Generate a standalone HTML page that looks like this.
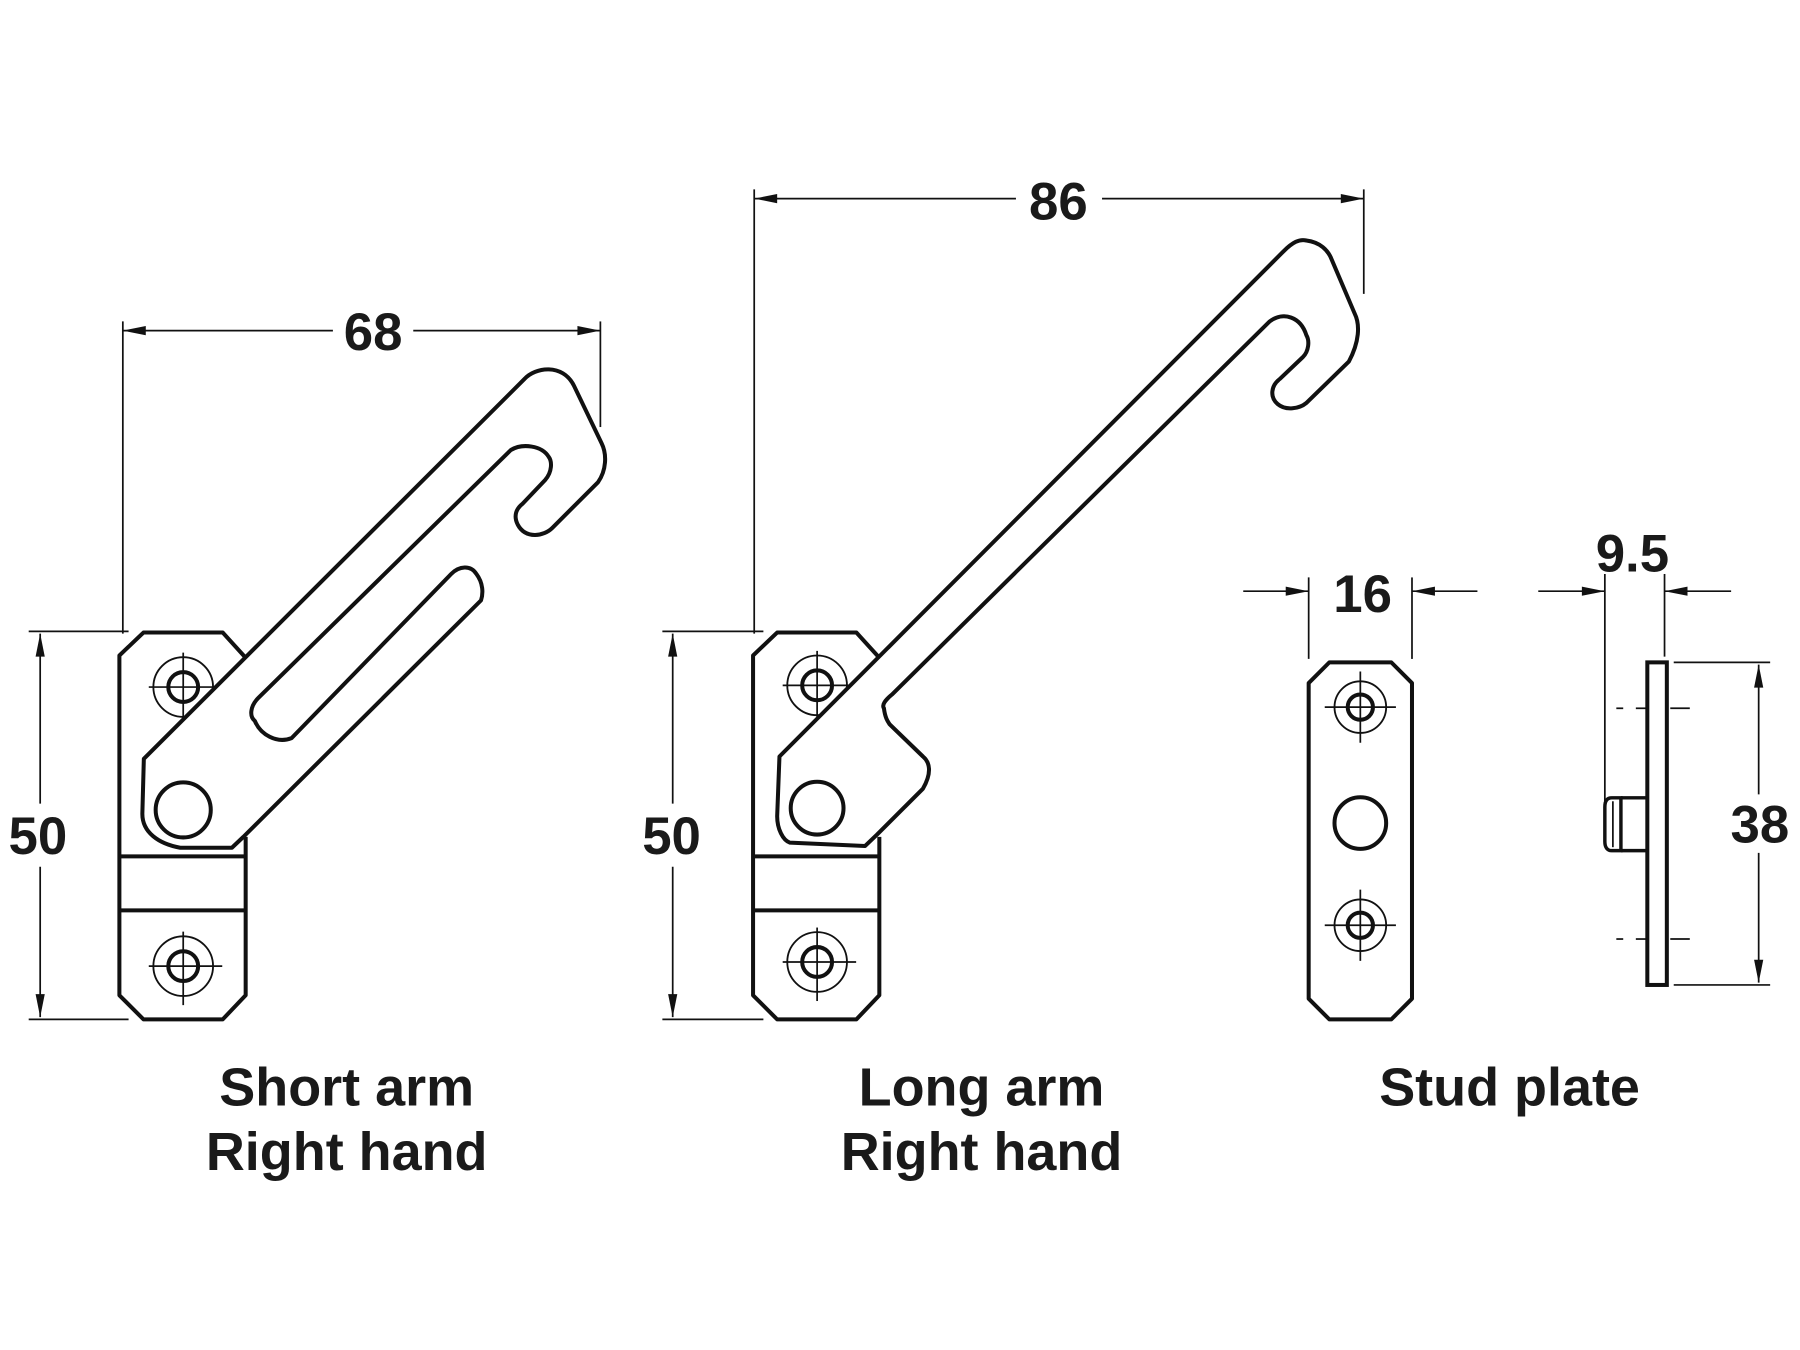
<!DOCTYPE html>
<html><head><meta charset="utf-8"><style>
html,body{margin:0;padding:0;background:#fff}
svg{display:block}
text{font-family:"Liberation Sans",Arial,sans-serif;font-weight:bold;fill:#1a1a1a}
</style></head><body>
<svg width="1800" height="1350" viewBox="0 0 1568 1176" xmlns="http://www.w3.org/2000/svg">
<defs>
<g id="screw">
<circle r="26" fill="none" stroke="#111" stroke-width="1.6"/>
<circle r="13" fill="none" stroke="#111" stroke-width="3.5"/>
<line x1="-30" y1="0" x2="34" y2="0" stroke="#111" stroke-width="1.5"/>
<line x1="0" y1="-30" x2="0" y2="34" stroke="#111" stroke-width="1.5"/>
</g>
<g id="sscrew">
<circle r="22.5" fill="none" stroke="#111" stroke-width="1.6"/>
<circle r="11" fill="none" stroke="#111" stroke-width="3.5"/>
<line x1="-31" y1="0" x2="31" y2="0" stroke="#111" stroke-width="1.5"/>
<line x1="0" y1="-31" x2="0" y2="31" stroke="#111" stroke-width="1.5"/>
</g>
<g id="plate">
<path d="M214,573 L194,551 L125,551 L104,571 L104,867 L125,888 L194,888 L214,867 L214,729" fill="none" stroke="#111" stroke-width="3.5" stroke-linejoin="round"/>
<line x1="104" y1="746" x2="214" y2="746" stroke="#111" stroke-width="3.5"/>
<line x1="104" y1="793" x2="214" y2="793" stroke="#111" stroke-width="3.5"/>
</g>
</defs>

<g fill="none" stroke="#111" stroke-width="1.5">
<line x1="107" y1="280" x2="107" y2="552"/>
<line x1="523" y1="280" x2="523" y2="372"/>
<line x1="107" y1="288" x2="290" y2="288"/>
<line x1="360" y1="288" x2="523" y2="288"/>
<line x1="25" y1="550" x2="112" y2="550"/>
<line x1="25" y1="888" x2="112" y2="888"/>
<line x1="35" y1="552" x2="35" y2="700"/>
<line x1="35" y1="755" x2="35" y2="886"/>
<line x1="657" y1="165" x2="657" y2="552"/>
<line x1="1188" y1="165" x2="1188" y2="256"/>
<line x1="657" y1="173" x2="885" y2="173"/>
<line x1="960" y1="173" x2="1188" y2="173"/>
<line x1="577" y1="550" x2="665" y2="550"/>
<line x1="577" y1="888" x2="665" y2="888"/>
<line x1="586" y1="552" x2="586" y2="700"/>
<line x1="586" y1="755" x2="586" y2="886"/>
<line x1="1140" y1="503" x2="1140" y2="574"/>
<line x1="1230" y1="503" x2="1230" y2="574"/>
<line x1="1083" y1="515" x2="1140" y2="515"/>
<line x1="1230" y1="515" x2="1287" y2="515"/>
<line x1="1398" y1="500" x2="1398" y2="700"/>
<line x1="1450" y1="500" x2="1450" y2="572"/>
<line x1="1340" y1="515" x2="1398" y2="515"/>
<line x1="1450" y1="515" x2="1508" y2="515"/>
<line x1="1458" y1="577" x2="1542" y2="577"/>
<line x1="1458" y1="858" x2="1542" y2="858"/>
<line x1="1532" y1="579" x2="1532" y2="692"/>
<line x1="1532" y1="743" x2="1532" y2="856"/>
<line x1="1455" y1="617" x2="1472" y2="617"/>
<line x1="1455" y1="818" x2="1472" y2="818"/>
<line x1="1408" y1="617" x2="1414" y2="617"/>
<line x1="1408" y1="818" x2="1414" y2="818"/>
<line x1="1425" y1="617" x2="1435" y2="617"/>
<line x1="1425" y1="818" x2="1435" y2="818"/>
</g>
<g fill="#111">
<polygon points="107,288 127,284 127,292"/>
<polygon points="523,288 503,284 503,292"/>
<polygon points="35,552 31,572 39,572"/>
<polygon points="35,886 31,866 39,866"/>
<polygon points="657,173 677,169 677,177"/>
<polygon points="1188,173 1168,169 1168,177"/>
<polygon points="586,552 582,572 590,572"/>
<polygon points="586,886 582,866 590,866"/>
<polygon points="1140,515 1120,511 1120,519"/>
<polygon points="1230,515 1250,511 1250,519"/>
<polygon points="1398,515 1378,511 1378,519"/>
<polygon points="1450,515 1470,511 1470,519"/>
<polygon points="1532,579 1528,599 1536,599"/>
<polygon points="1532,856 1528,836 1536,836"/>
</g>

<use href="#plate"/>
<use href="#screw" x="159.6" y="598.5"/>
<use href="#screw" x="159.6" y="841.6"/>
<path d="M125.3,661 L457,330 C466,320 490,316 500,336 L524,386 C529,396 528,410 521,420 L481,460 C474,467 458,470 451,457 C447,449 450,443 455,439 L475,418 C481,411 481,402 478,398 C472,388 455,386 445,392 L225,608 C218,615 217,624 222,628 C227,640 241,648 254,643 L393,500 C400,493 410,492 415,500 C421,508 421,517 419,523 L212,729 L202,738.5 L157,738.5 C138,735 124,725 124,709 Z" fill="#fff" stroke="#111" stroke-width="3.5" stroke-linejoin="round"/>
<circle cx="159.6" cy="705.5" r="24" fill="none" stroke="#111" stroke-width="3.5"/>

<g transform="translate(552,0)"><use href="#plate"/></g>
<use href="#screw" x="711.8" y="597"/>
<use href="#screw" x="711.8" y="838"/>
<path d="M679,659 L1118,219 C1126,211 1132,208 1138,209.5 C1150,211 1157,218 1160,226 L1180,273 C1185,283 1184,298 1175,315 L1138,351 C1132,356 1120,358 1113,352 C1106,346 1107,336 1115,330 L1135,311 C1140,306 1141,297 1138,292 C1133,276 1118,271 1106,280 L777,605 C771,610 768,614 770,617 C771,625 773,628 775,631 L804,659 C810,664 812,673 804,687 L764,727 L753.5,737 L688,734 C682,732 677,722 677,711 Z" fill="#fff" stroke="#111" stroke-width="3.5" stroke-linejoin="round"/>
<circle cx="711.8" cy="704" r="23" fill="none" stroke="#111" stroke-width="3.5"/>

<path d="M1158,577 L1212,577 L1230,595 L1230,870 L1212,888 L1158,888 L1140,870 L1140,595 Z" fill="none" stroke="#111" stroke-width="3.5" stroke-linejoin="round"/>
<use href="#sscrew" x="1185" y="616"/>
<use href="#sscrew" x="1185" y="806"/>
<circle cx="1185" cy="717" r="22.5" fill="none" stroke="#111" stroke-width="3.5"/>

<rect x="1435" y="577" width="17" height="281" fill="none" stroke="#111" stroke-width="3.5"/>
<path d="M1435,695 L1412,695 M1435,741 L1412,741" stroke="#111" stroke-width="3" fill="none"/>
<path d="M1412,695 L1404,695 C1399,695 1398,699 1398,703 L1398,733 C1398,738 1400,741 1404,741 L1412,741 Z" fill="#fff" stroke="#111" stroke-width="3"/>
<line x1="1405" y1="698" x2="1405" y2="738" stroke="#111" stroke-width="1.5"/>

<g font-size="46" text-anchor="middle">
<text x="325" y="305">68</text>
<text x="922" y="191">86</text>
<text x="33" y="744">50</text>
<text x="585" y="744">50</text>
<text x="1187" y="533">16</text>
<text x="1422" y="498">9.5</text>
<text x="1533" y="734">38</text>
</g>
<g font-size="47" text-anchor="middle">
<text x="302" y="963">Short arm</text>
<text x="302" y="1019">Right hand</text>
<text x="855" y="963">Long arm</text>
<text x="855" y="1019">Right hand</text>
<text x="1315" y="963">Stud plate</text>
</g>
</svg>
</body></html>
